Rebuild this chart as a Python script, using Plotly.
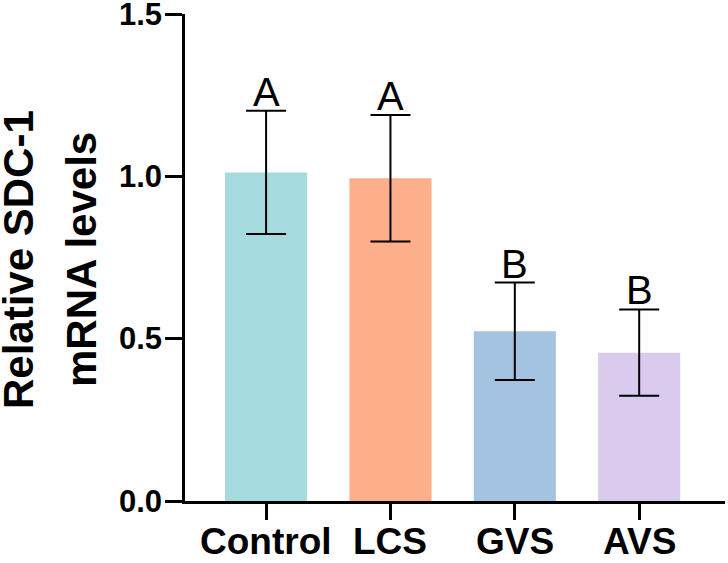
import plotly.graph_objects as go

categories = ["Control", "LCS", "GVS", "AVS"]
means = [1.012, 0.994, 0.523, 0.457]
errors = [0.19, 0.195, 0.15, 0.133]
letters = ["A", "A", "B", "B"]
colors = ["#A5DBDF", "#FDAF8B", "#A4C3E1", "#D9CBED"]
y_ticks = [0.0, 0.5, 1.0, 1.5]
y_ticklabels = ["0.0", "0.5", "1.0", "1.5"]
y_title_lines = ["Relative SDC-1", "mRNA levels"]

FONT = "Liberation Sans, Arial, Helvetica, sans-serif"

fig = go.Figure()
fig.add_trace(go.Bar(
    x=categories, y=means, width=0.66,
    marker=dict(color=colors, line=dict(width=0)),
    error_y=dict(type="data", array=errors, visible=True,
                 color="black", thickness=2, width=20),
    showlegend=False,
))

for c, m, e, t in zip(categories, means, errors, letters):
    fig.add_annotation(x=c, y=m + e, text=t, showarrow=False,
                       xanchor="center", yanchor="bottom", yshift=-5,
                       font=dict(family=FONT, size=40, color="black"))

W, H = 728, 563
L, R, T, B = 185, 3, 14, 62
pw, ph = W - L - R, H - T - B

def px_x(p):
    return (p - L) / pw

def px_y(p):
    return (H - B - p) / ph

# category tick labels as annotations (placed closer to the axis)
for c in categories:
    fig.add_annotation(x=c, xref="x", yref="paper", y=px_y(519),
                       text=f"<b>{c}</b>", showarrow=False,
                       xanchor="center", yanchor="top",
                       font=dict(family=FONT, size=37, color="black"))

# value tick labels as annotations (placed closer to the ticks)
for v, t in zip(y_ticks, y_ticklabels):
    fig.add_annotation(xref="paper", yref="y", x=px_x(164), y=v,
                       text=f"<b>{t}</b>", showarrow=False,
                       xanchor="right", yanchor="middle",
                       font=dict(family=FONT, size=31, color="black"))

title_x = [18, 81]
for line, xp in zip(y_title_lines, title_x):
    fig.add_annotation(xref="paper", yref="paper", x=px_x(xp), y=px_y(260),
                       text=f"<b>{line}</b>", showarrow=False, textangle=-90,
                       xanchor="center", yanchor="middle",
                       font=dict(family=FONT, size=42, color="black"))

fig.update_layout(
    width=W, height=H,
    margin=dict(l=L, r=R, t=T, b=B, pad=0, autoexpand=False),
    plot_bgcolor="white", paper_bgcolor="white",
    font=dict(family=FONT, color="black"),
    xaxis=dict(
        range=[-0.652, 3.69], showline=True, linecolor="black", linewidth=3,
        ticks="outside", ticklen=16, tickwidth=3, tickcolor="black",
        showgrid=False, zeroline=False, automargin=False,
        tickvals=categories, showticklabels=False,
    ),
    yaxis=dict(
        range=[0, 1.5], showline=True, linecolor="black", linewidth=3,
        ticks="outside", ticklen=17, tickwidth=3, tickcolor="black",
        showgrid=False, zeroline=False, automargin=False,
        tickvals=y_ticks, showticklabels=False,
    ),
)

fig.write_html("out.html")
